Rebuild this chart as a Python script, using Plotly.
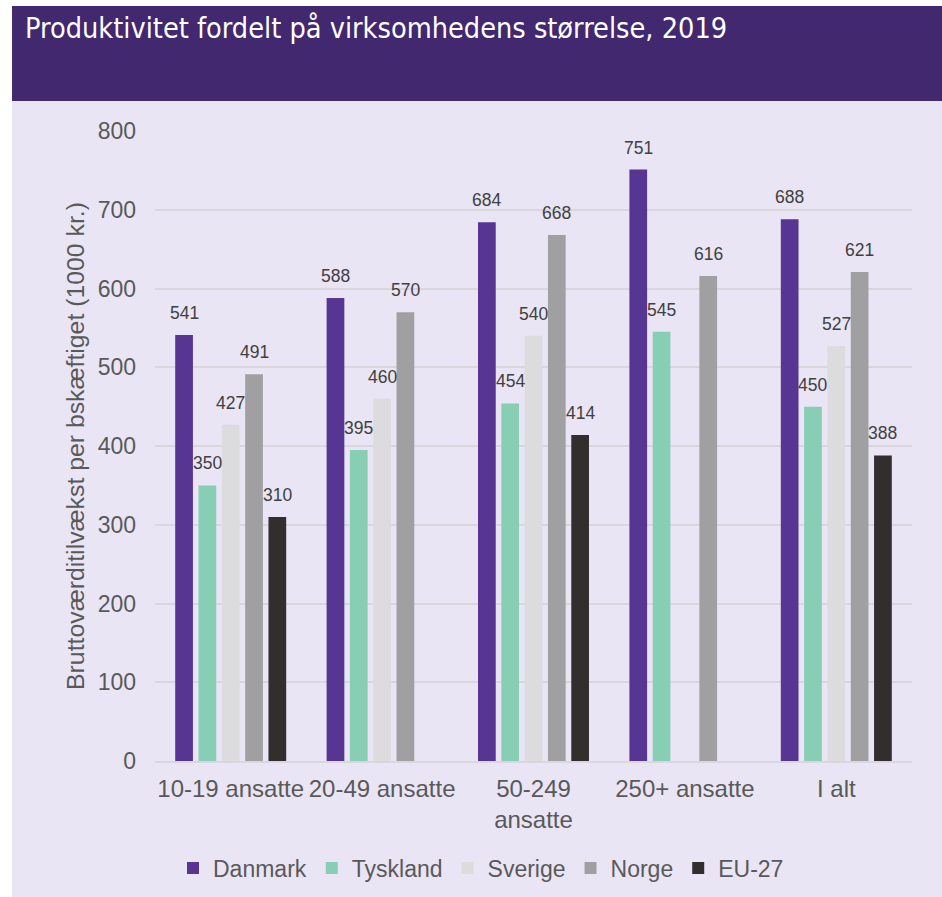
import plotly.graph_objects as go

categories = ["10-19 ansatte", "20-49 ansatte", "50-249<br>ansatte", "250+ ansatte", "I alt"]
danmark = [541, 588, 684, 751, 688]
tyskland = [350, 395, 454, 545, 450]
sverige = [427, 460, 540, None, 527]
norge = [491, 570, 668, 616, 621]
eu27 = [310, None, 414, None, 388]

series_names = ["Danmark", "Tyskland", "Sverige", "Norge", "EU-27"]
series_values = [danmark, tyskland, sverige, norge, eu27]
colors = ["#563593", "#88CEB4", "#DCDCDE", "#A0A0A3", "#322E2E"]

title_text = "Produktivitet fordelt på virksomhedens størrelse, 2019"
y_title = "Bruttoværditilvækst per bskæftiget (1000 kr.)"
y_ticks = [0, 100, 200, 300, 400, 500, 600, 700, 800]

W, H = 942, 897
# plot area on screen: x 155..912, y 131..761
ML, MR, MT, MB = 155, W - 912, 131, H - 761
plot_w = W - ML - MR
plot_h = H - MT - MB
BARGAP = 0.23

def px_x(sx):
    return (sx - ML) / plot_w

def px_y(sy):
    return (H - MB - sy) / plot_h

fig = go.Figure()
for name, vals, col in zip(series_names, series_values, colors):
    fig.add_trace(go.Bar(name=name, x=categories, y=vals, marker_color=col,
                         marker_line_width=0))

# data labels
slot = plot_w / len(categories) * (1 - BARGAP) / len(series_names)
annotations = []
for i, vals in enumerate(series_values):
    for c, v in zip(categories, vals):
        if v is None:
            continue
        annotations.append(dict(x=c, y=v, text=str(v), showarrow=False,
                                xshift=(i - 2) * slot, yshift=22, yanchor="middle",
                                font=dict(family="Liberation Sans, Arial, sans-serif", size=17.5, color="#404040")))

annotations.append(dict(x=px_x(23), y=px_y(28), xref="paper", yref="paper",
                        text=title_text, showarrow=False, xanchor="left", yanchor="middle",
                        font=dict(family="Liberation Sans Narrow, DejaVu Sans Condensed, Arial Narrow, sans-serif",
                                  size=28.6, color="white")))

shapes = [
    dict(type="rect", xref="paper", yref="paper", x0=px_x(12), x1=px_x(960), y0=px_y(960), y1=px_y(101),
         fillcolor="#E9E5F5", line_width=0, layer="below"),
    dict(type="rect", xref="paper", yref="paper", x0=px_x(12), x1=px_x(960), y0=px_y(101), y1=px_y(6),
         fillcolor="#42286F", line_width=0, layer="below"),
]

fig.update_layout(
    width=W, height=H,
    margin=dict(l=ML, r=MR, t=MT, b=MB, autoexpand=False),
    paper_bgcolor="white", plot_bgcolor="#E9E5F5",
    barmode="group", bargap=BARGAP, bargroupgap=0.24,
    font=dict(family="Liberation Sans, Arial, sans-serif", color="#595959"),
    showlegend=True,
    legend=dict(orientation="h", x=px_x(481), xanchor="center", y=px_y(868), yanchor="middle",
                font=dict(size=23, color="#595959"), bgcolor="rgba(0,0,0,0)", itemwidth=30),
    annotations=annotations,
    shapes=shapes,
)
fig.update_yaxes(range=[0, 800], tickvals=y_ticks, showgrid=True, gridcolor="#D9D6DE", gridwidth=2,
                 zeroline=False, showline=False, tickfont=dict(size=23, color="#595959"),
                 ticklabelstandoff=18,
                 title=dict(text=y_title, font=dict(size=24.8, color="#595959"), standoff=5))
fig.update_xaxes(showline=True, linecolor="#D9D6DE", linewidth=2, tickfont=dict(size=24, color="#595959"),
                 ticklabelstandoff=5)

fig.write_html("out.html", config={"displayModeBar": False},
               post_script="document.body.style.margin='0';document.documentElement.style.overflow='hidden';")
